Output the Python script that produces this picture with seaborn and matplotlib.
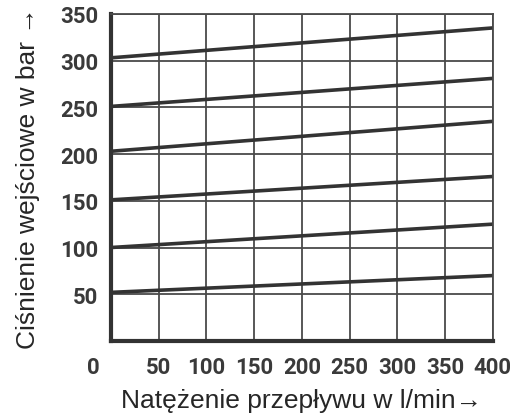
import pandas as pd
import numpy as np
import matplotlib.pyplot as plt
import seaborn as sns

sns.set_style("white")
plt.rcParams['font.family'] = ['Liberation Sans', 'DejaVu Sans']

# dane
flow = [0, 400]
p_300 = [303, 335]
p_250 = [251, 281]
p_200 = [203, 235]
p_150 = [151, 176]
p_100 = [100, 125]
p_50 = [52, 70]

x_ticks = [50, 100, 150, 200, 250, 300, 350, 400]
y_ticks = [50, 100, 150, 200, 250, 300, 350]

curves = {"300": p_300, "250": p_250, "200": p_200,
          "150": p_150, "100": p_100, "50": p_50}
df = pd.concat([pd.DataFrame({"flow": flow, "p": v, "curve": k})
                for k, v in curves.items()], ignore_index=True)

dark = "#333333"
grid_c = "#4a4a4a"
fig = plt.figure(figsize=(5.26, 4.14), dpi=100)
ax = fig.add_axes([0.211, 0.174, 0.726, 0.790])

sns.lineplot(data=df, x="flow", y="p", units="curve", estimator=None,
             color=dark, linewidth=2.6, ax=ax, legend=False)

ax.set_xlim(0, 400)
ax.set_ylim(0, 350)
ax.set_xticks(x_ticks)
ax.set_yticks(y_ticks)
ax.grid(True, color=grid_c, linewidth=1.3)
ax.tick_params(axis="y", length=0, pad=9)
ax.tick_params(axis="x", length=0, pad=11)
tick_font = dict(fontfamily="Roboto", fontweight="bold", fontsize=16, color="#3a3a3a")
for lab in ax.get_xticklabels() + ax.get_yticklabels():
    lab.set(**tick_font)
ax.text(-0.03, -0.045, "0", transform=ax.transAxes, ha="right", va="top", **tick_font)

for side in ["left", "bottom"]:
    ax.spines[side].set_linewidth(3)
    ax.spines[side].set_color(dark)
for side in ["top", "right"]:
    ax.spines[side].set_linewidth(1.3)
    ax.spines[side].set_color(grid_c)

ax.set_xlabel("Natężenie przepływu w l/min→", fontsize=19, labelpad=7)
ax.set_ylabel("Ciśnienie wejściowe w bar →", fontsize=19, labelpad=15)

plt.savefig("out.png", dpi=100)
